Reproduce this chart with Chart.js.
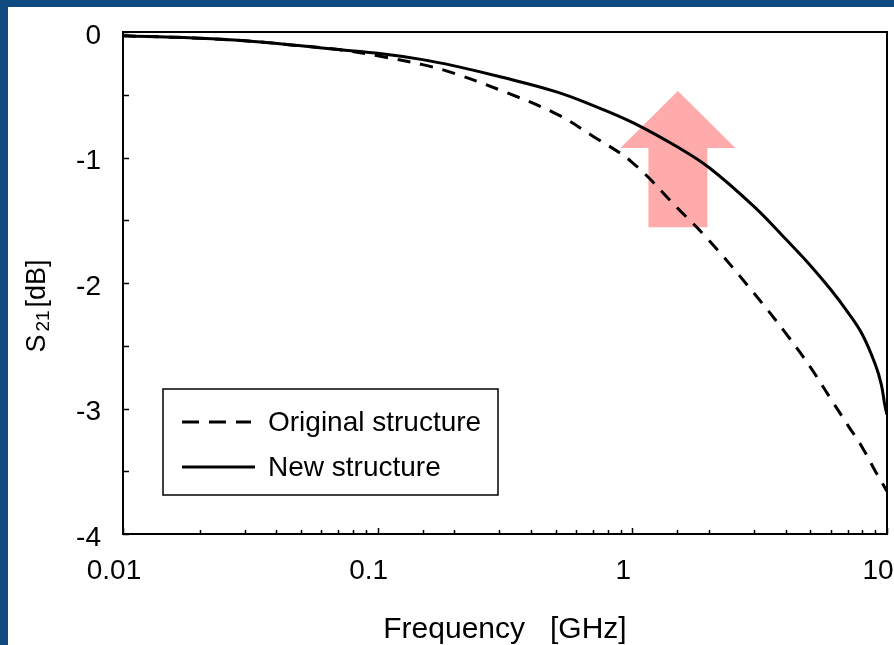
<!DOCTYPE html>
<html><head><meta charset="utf-8">
<script src="https://cdn.jsdelivr.net/npm/chart.js@4.4.1/dist/chart.umd.min.js"></script>
<style>
html,body{margin:0;padding:0;}
body{width:894px;height:645px;background:#0f4a80;position:relative;overflow:hidden;}
#panel{position:absolute;left:8px;top:7px;width:886px;height:638px;background:#fff;}
canvas{display:block;}
</style></head><body>
<div id="panel"><canvas id="c" width="886" height="638"></canvas></div>
<script>
// ---- data ----
const frequencies = [0.01, 0.02, 0.03, 0.05, 0.07, 0.1, 0.15, 0.2, 0.3, 0.5, 0.7, 1, 1.5, 2, 3, 4, 5, 6, 7, 8, 9, 9.5, 9.8, 10];
const originalS21 = [-0.03, -0.05, -0.07, -0.11, -0.14, -0.19, -0.26, -0.33, -0.46, -0.65, -0.83, -1.04, -1.40, -1.66, -2.08, -2.40, -2.67, -2.92, -3.13, -3.31, -3.50, -3.58, -3.63, -3.66];
const newS21      = [-0.03, -0.05, -0.07, -0.11, -0.14, -0.17, -0.22, -0.27, -0.355, -0.475, -0.585, -0.72, -0.915, -1.08, -1.39, -1.65, -1.86, -2.05, -2.23, -2.41, -2.65, -2.81, -2.97, -3.05];
const seriesLabels = ['Original structure', 'New structure'];
const xTickLabels = ['0.01', '0.1', '1', '10'];
const yTickLabels = ['0', '-1', '-2', '-3', '-4'];
const xTitle = 'Frequency   [GHz]';

const FONT = '"Liberation Sans", Arial, sans-serif';

function isDecade(v){ const l = Math.log10(v); return Math.abs(l - Math.round(l)) < 1e-9; }

const decor = {
  id: 'decor',
  beforeDatasetsDraw(chart){
    const {ctx, scales:{x, y}} = chart;
    // highlight arrow (annotation)
    const cx = x.getPixelForValue(1.51);
    const tip = y.getPixelForValue(-0.47);
    const base = y.getPixelForValue(-0.925);
    const bottom = y.getPixelForValue(-1.555);
    ctx.save();
    ctx.fillStyle = '#ffabab';
    ctx.beginPath();
    ctx.moveTo(cx, tip);
    ctx.lineTo(cx + 57.5, base);
    ctx.lineTo(cx + 29.5, base);
    ctx.lineTo(cx + 29.5, bottom);
    ctx.lineTo(cx - 29.5, bottom);
    ctx.lineTo(cx - 29.5, base);
    ctx.lineTo(cx - 57.5, base);
    ctx.closePath();
    ctx.fill();
    ctx.restore();
  },
  afterDatasetsDraw(chart){
    const {ctx, chartArea:a, scales:{x, y}} = chart;
    ctx.save();
    // frame
    ctx.strokeStyle = '#000';
    ctx.lineWidth = 2;
    ctx.strokeRect(a.left, a.top, a.right - a.left, a.bottom - a.top);
    // inner tick marks
    ctx.lineWidth = 1.5;
    ctx.beginPath();
    y.ticks.forEach(t => {
      const py = Math.round(y.getPixelForValue(t.value)) + 0.5;
      ctx.moveTo(a.left, py); ctx.lineTo(a.left + 6, py);
    });
    x.ticks.forEach(t => {
      const px = Math.round(x.getPixelForValue(t.value)) + 0.5;
      const len = isDecade(t.value) ? 6 : 4;
      ctx.moveTo(px, a.bottom); ctx.lineTo(px, a.bottom - len);
    });
    ctx.stroke();

    // legend box
    const lx = 155, ly = 382, lw = 335, lh = 106;
    ctx.fillStyle = '#fff';
    ctx.fillRect(lx, ly, lw, lh);
    ctx.lineWidth = 1.5;
    ctx.strokeRect(lx, ly, lw, lh);
    const rows = [415, 460];
    chart.data.datasets.forEach((ds, i) => {
      const ry = rows[i];
      ctx.beginPath();
      ctx.strokeStyle = ds.borderColor;
      ctx.lineWidth = 3;
      ctx.setLineDash(ds.borderDash && ds.borderDash.length ? [17, 10] : []);
      ctx.moveTo(174, ry); ctx.lineTo(i === 0 ? 243 : 247, ry);
      ctx.stroke();
      ctx.setLineDash([]);
      ctx.fillStyle = '#000';
      ctx.font = '28px ' + FONT;
      ctx.textBaseline = 'middle';
      ctx.textAlign = 'left';
      ctx.fillText(ds.label, 260, ry + 1);
    });

    // y-axis title with subscript
    ctx.translate(37, 299);
    ctx.rotate(-Math.PI / 2);
    ctx.fillStyle = '#000';
    ctx.textBaseline = 'alphabetic';
    ctx.textAlign = 'left';
    const big = '27px ' + FONT, small = '19px ' + FONT;
    ctx.font = big; const wS = ctx.measureText('S').width; const wB = ctx.measureText('[dB]').width;
    ctx.font = small; const w21 = ctx.measureText('21').width;
    const gap = 3;
    let sx = -(wS + w21 + wB + 2 * gap) / 2;
    ctx.font = big; ctx.fillText('S', sx, 0); sx += wS + gap;
    ctx.font = small; ctx.fillText('21', sx, 4); sx += w21 + gap;
    ctx.font = big; ctx.fillText('[dB]', sx, 0);
    ctx.restore();
  }
};

const toPoints = arr => frequencies.map((f, i) => ({x: f, y: arr[i]}));

new Chart(document.getElementById('c'), {
  type: 'line',
  data: {
    datasets: [
      { label: seriesLabels[0], data: toPoints(originalS21), borderColor: '#000', borderWidth: 3,
        borderDash: [13, 10], pointRadius: 0, tension: 0.4, fill: false },
      { label: seriesLabels[1], data: toPoints(newS21), borderColor: '#000', borderWidth: 3,
        pointRadius: 0, tension: 0.4, fill: false }
    ]
  },
  options: {
    responsive: false,
    animation: false,
    events: [],
    layout: { padding: { top: 25, right: 7, left: 0, bottom: 0 } },
    plugins: { legend: { display: false }, tooltip: { enabled: false } },
    scales: {
      x: {
        type: 'logarithmic', min: 0.01, max: 10,
        grid: { display: false, drawTicks: false },
        border: { display: false },
        afterFit(s){ s.height = 111; s.paddingLeft = 0; s.paddingRight = 0; },
        ticks: {
          autoSkip: false, maxRotation: 0, padding: 20, labelOffset: -9,
          color: '#000', font: { family: FONT, size: 28 },
          callback(v){ if (!isDecade(v)) return ''; const i = Math.round(Math.log10(v)) + 2; return xTickLabels[i]; }
        },
        title: { display: true, text: xTitle, color: '#000', font: { family: FONT, size: 30, lineHeight: 1 }, padding: { top: 0, bottom: 0 } }
      },
      y: {
        type: 'linear', min: -4, max: 0,
        grid: { display: false, drawTicks: false },
        border: { display: false },
        afterFit(s){ s.width = 115; s.paddingTop = 0; s.paddingBottom = 0; },
        ticks: {
          stepSize: 0.5, padding: 22, labelOffset: 4,
          color: '#000', font: { family: FONT, size: 28 },
          callback(v){ if (Math.abs(v - Math.round(v)) > 1e-9) return ''; return yTickLabels[-Math.round(v)]; }
        }
      }
    }
  },
  plugins: [decor]
});
</script>
</body></html>
